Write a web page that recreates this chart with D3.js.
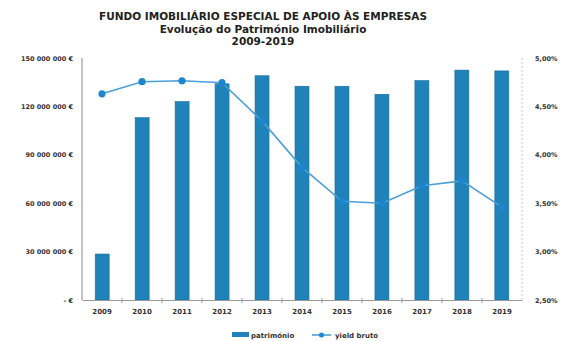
<!DOCTYPE html>
<html>
<head>
<meta charset="utf-8">
<script src="https://cdn.jsdelivr.net/npm/d3@7"></script>
<style>
  body { margin: 0; background: #fff; }
  text { font-family: "DejaVu Sans", Verdana, sans-serif; }
</style>
</head>
<body>
<div class="board"></div>
<script>
// chart data
var years = ['2009', '2010', '2011', '2012', '2013', '2014', '2015', '2016', '2017', '2018', '2019'];
var patrimonio = [28.5e6, 113e6, 123e6, 134e6, 139e6, 132.5e6, 132.5e6, 127.5e6, 136e6, 142.5e6, 142e6];
var yieldBruto = [4.63, 4.755, 4.765, 4.745, 4.35, 3.87, 3.52, 3.50, 3.68, 3.73, 3.46];
var leftTicks = [0, 30e6, 60e6, 90e6, 120e6, 150e6];
var rightTicks = [2.5, 3, 3.5, 4, 4.5, 5];
var titleLines = ['FUNDO IMOBILIÁRIO ESPECIAL DE APOIO ÀS EMPRESAS', 'Evolução do Património Imobiliário', '2009-2019'];

var opts = { width: 561, height: 341, left: 82, right: 522, top: 58, bottom: 300 };

var svg = d3.select('.board').append('svg')
            .attr('width', opts.width)
            .attr('height', opts.height);

var x = d3.scaleBand().domain(years).range([opts.left, opts.right]).paddingInner(0.65).paddingOuter(0.33);
var xb = d3.scaleBand().domain(years).range([opts.left, opts.right]);
var yL = d3.scaleLinear().domain([0, 150e6]).range([opts.bottom, opts.top]);
var yR = d3.scaleLinear().domain([2.5, 5]).range([opts.bottom, opts.top]);

var fmtMoney = function(v) {
  if (v === 0) return '- €';
  return d3.format(',')(v).replace(/,/g, ' ') + ' €';
};
var fmtPct = function(v) { return d3.format('.2f')(v).replace('.', ',') + '%'; };

// title
svg.selectAll('text.title')
   .data(titleLines)
   .enter().append('text')
   .attr('class', 'title')
   .attr('x', 263)
   .attr('y', function(d, i) { return 20 + i * 12.5; })
   .attr('text-anchor', 'middle')
   .style('font-size', '10.5px')
   .style('font-weight', 'bold')
   .style('fill', '#222')
   .text(function(d) { return d; });

// bars
svg.selectAll('rect.bar')
   .data(patrimonio)
   .enter().append('rect')
   .attr('class', 'bar')
   .attr('x', function(d, i) { return x(years[i]); })
   .attr('width', x.bandwidth())
   .attr('y', function(d) { return yL(d); })
   .attr('height', function(d) { return yL(0) - yL(d); })
   .style('fill', '#1f82b8')
   .style('stroke', '#1a6f9e')
   .style('stroke-width', 0.6);

// axes lines
svg.append('line')
   .attr('x1', opts.left).attr('x2', opts.left)
   .attr('y1', opts.top).attr('y2', opts.bottom)
   .style('stroke', '#999').style('stroke-width', 1.2);
svg.append('line')
   .attr('x1', opts.right).attr('x2', opts.right)
   .attr('y1', opts.top).attr('y2', opts.bottom)
   .style('stroke', '#ccc').style('stroke-dasharray', '2,2');

var xAxis = svg.append('g')
   .attr('transform', 'translate(0,' + opts.bottom + ')')
   .call(d3.axisBottom(xb).tickSize(0).tickPadding(9));
xAxis.select('.domain').style('stroke', '#999').style('stroke-width', 1.2);
xAxis.selectAll('text')
   .style('font-size', '7px').style('font-weight', 'bold').style('fill', '#333')
   .style('font-family', '"DejaVu Sans", Verdana, sans-serif');
xAxis.selectAll('line.sep')
   .data(years.slice(1))
   .enter().append('line')
   .attr('class', 'sep')
   .attr('x1', function(d) { return xb(d); })
   .attr('x2', function(d) { return xb(d); })
   .attr('y1', -2).attr('y2', 3)
   .style('stroke', '#999');

var leftAxis = svg.append('g')
   .attr('transform', 'translate(' + (opts.left - 6) + ',0)')
   .call(d3.axisLeft(yL).tickValues(leftTicks).tickFormat(fmtMoney).tickSize(0));
leftAxis.select('.domain').remove();
leftAxis.selectAll('text')
   .style('font-size', '6.5px').style('font-weight', 'bold').style('fill', '#333')
   .style('font-family', '"DejaVu Sans", Verdana, sans-serif');

var rightAxis = svg.append('g')
   .attr('transform', 'translate(' + (opts.right + 10) + ',0)')
   .call(d3.axisRight(yR).tickValues(rightTicks).tickFormat(fmtPct).tickSize(0));
rightAxis.select('.domain').remove();
rightAxis.selectAll('text')
   .style('font-size', '6.5px').style('font-weight', 'bold').style('fill', '#333')
   .style('font-family', '"DejaVu Sans", Verdana, sans-serif');

// yield line
var line = d3.line()
   .x(function(d, i) { return xb(years[i]) + xb.bandwidth() / 2; })
   .y(function(d) { return yR(d); });

svg.append('path')
   .datum(yieldBruto)
   .attr('d', line)
   .style('fill', 'none')
   .style('stroke', '#4b9fd6')
   .style('stroke-width', 1.6);

svg.selectAll('circle.pt')
   .data(yieldBruto)
   .enter().append('circle')
   .attr('class', 'pt')
   .attr('cx', function(d, i) { return xb(years[i]) + xb.bandwidth() / 2; })
   .attr('cy', function(d) { return yR(d); })
   .attr('r', 3.6)
   .style('fill', '#1d86cc');

// legend
var lg = svg.append('g').attr('transform', 'translate(0,335)');
lg.append('rect').attr('x', 232).attr('y', -3).attr('width', 17).attr('height', 5).style('fill', '#1f82b8');
lg.append('text').attr('x', 251).attr('y', 2.5).text('património')
  .style('font-size', '7px').style('font-weight', 'bold').style('fill', '#333');
lg.append('line').attr('x1', 312).attr('x2', 331).attr('y1', 0).attr('y2', 0)
  .style('stroke', '#4b9fd6').style('stroke-width', 1.6);
lg.append('circle').attr('cx', 321.5).attr('cy', 0).attr('r', 2.5).style('fill', '#1d86cc');
lg.append('text').attr('x', 335).attr('y', 2.5).text('yield bruto')
  .style('font-size', '7px').style('font-weight', 'bold').style('fill', '#333');
</script>
</body>
</html>
